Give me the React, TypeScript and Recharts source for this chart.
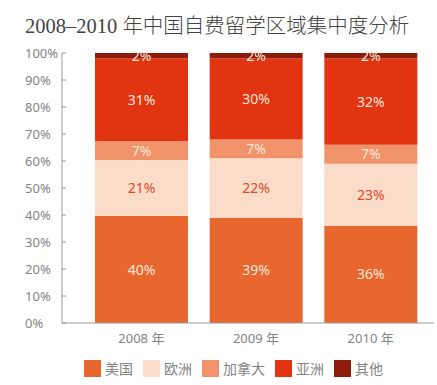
import { BarChart, Bar, XAxis, YAxis, Legend, LabelList } from 'recharts';

// ── Data ────────────────────────────────────────────────────────────────
const years = ['2008 年', '2009 年', '2010 年'];
const usa = [40, 39, 36];
const europe = [21, 22, 23];
const canada = [7, 7, 7];
const asia = [31, 30, 32];
const other = [2, 2, 2];
const yTicks = [0, 10, 20, 30, 40, 50, 60, 70, 80, 90, 100];

const SERIES = [
  { key: 'usa', name: '美国', color: '#E8672F', label: '#FCE6D8' },
  { key: 'europe', name: '欧洲', color: '#FADCC8', label: '#DC4A2C' },
  { key: 'canada', name: '加拿大', color: '#F0926A', label: '#FCE6D8' },
  { key: 'asia', name: '亚洲', color: '#E33412', label: '#FCE6D8' },
  { key: 'other', name: '其他', color: '#8E1C0B', label: '#FCE6D8' },
];

const data = years.map((year, i) => ({
  year,
  usa: usa[i],
  europe: europe[i],
  canada: canada[i],
  asia: asia[i],
  other: other[i],
}));

const FONT = '"Noto Sans", "Noto Sans CJK SC", sans-serif';
const AXIS = '#9a9a9a';
const TEXT = '#838383';

function YTick({ x, y, payload }: any) {
  return (
    <g>
      <line x1={x} x2={x + 4} y1={y} y2={y} stroke={AXIS} />
      <text x={x - 37} y={y} dy="0.35em" textAnchor="start" fill={TEXT} fontSize={13} fontFamily={FONT}>
        {Math.round(payload.value * 100)}%
      </text>
    </g>
  );
}

// legend in series order (recharts 3 sorts by name otherwise)
function LegendContent() {
  return (
    <div style={{ display: 'flex', alignItems: 'center', fontFamily: FONT, fontSize: 14, color: TEXT }}>
      {SERIES.map((s) => (
        <div key={s.key} style={{ display: 'flex', alignItems: 'center', marginRight: 10 }}>
          <span style={{ width: 17, height: 17, background: s.color, marginRight: 4, display: 'inline-block' }} />
          <span>{s.name}</span>
        </div>
      ))}
    </div>
  );
}

export default function App() {
  return (
    <div style={{ position: 'absolute', left: 0, top: 0, width: 437, height: 385, background: '#fff' }}>
      <div
        style={{
          position: 'absolute',
          left: 25,
          top: 12,
          fontFamily: '"Liberation Serif", "DejaVu Serif", "Noto Sans CJK SC", serif',
          fontSize: 20.5,
          fontWeight: 300,
          lineHeight: '28px',
          color: '#444',
          whiteSpace: 'nowrap',
        }}
      >
        2008–2010 年中国自费留学区域集中度分析
      </div>
      <div style={{ position: 'absolute', left: 0, top: 0 }}>
        <BarChart
          width={437}
          height={385}
          data={data}
          stackOffset="expand"
          margin={{ top: 53, right: 3, left: 0, bottom: 12 }}
          barSize={93}
        >
          <XAxis
            dataKey="year"
            axisLine={{ stroke: AXIS }}
            tickLine={false}
            tickMargin={5}
            padding={{ left: 22, right: 6 }}
            tick={{ fill: TEXT, fontSize: 13, fontFamily: FONT }}
          />
          <YAxis
            width={62}
            domain={[0, 1]}
            ticks={yTicks.map((t) => t / 100)}
            axisLine={{ stroke: AXIS }}
            tickLine={false}
            tickSize={0}
            tickMargin={0}
            tick={<YTick />}
          />
          <Legend
            verticalAlign="bottom"
            align="left"
            height={20}
            wrapperStyle={{ left: 84, bottom: 7 }}
            content={<LegendContent />}
          />
          {SERIES.map((s) => (
            <Bar key={s.key} dataKey={s.key} name={s.name} stackId="a" fill={s.color} isAnimationActive={false}>
              <LabelList
                dataKey={s.key}
                position="center"
                fill={s.label}
                fontSize={14}
                fontFamily={FONT}
                formatter={(v: any) => `${v}%`}
              />
            </Bar>
          ))}
        </BarChart>
      </div>
    </div>
  );
}
